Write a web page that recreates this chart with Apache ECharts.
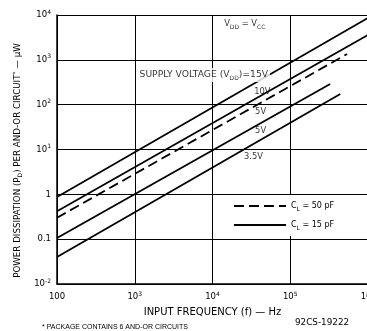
<!DOCTYPE html>
<html>
<head>
<meta charset="utf-8">
<script src="https://cdn.jsdelivr.net/npm/echarts@6/dist/echarts.min.js"></script>
<style>html,body{margin:0;padding:0;background:#fff}#c{width:367px;height:331px}</style>
</head>
<body>
<div id="c"></div>
<script>
// Tick labels (rich text superscripts)
const xTickLabels = ['100', '10{sup|3}', '10{sup|4}', '10{sup|5}', '10{sup|6}']; // 1e2..1e6
const yTickLabels = ['10{sup|-2}', '0.1', '1', '10{sup|1}', '10{sup|2}', '10{sup|3}', '10{sup|4}']; // 1e-2..1e4

// Series: [frequency Hz, power µW]
const v15_15pF = [[100, 0.87], [1000000, 8600]];
const v10_15pF = [[100, 0.42], [1000000, 3600]];
const v5_50pF  = [[100, 0.30], [540000, 1350]];
const v5_15pF  = [[100, 0.106], [326000, 289]];
const v35_15pF = [[100, 0.040], [440000, 173]];

// Annotations
const noteText = ['V{sub|DD} = V{sub|CC}', 'SUPPLY VOLTAGE (V{sub|DD})=15V', '10V', '5V', '5V', '3.5V'];
const notePos = [[13300, 6300], [55000, 459], [32400, 191], [33300, 68.6], [33300, 25.8], [24000, 6.8]];
const noteAlign = ['left', 'right', 'left', 'left', 'left', 'left'];

const legendNames = ['50pF', '15pF'];
const legendText = {'50pF': 'C{sub|L} = 50 pF', '15pF': 'C{sub|L} = 15 pF'};

const FONT = 'DejaVu Sans';
const richStyles = {
  sup: {fontSize: 6, verticalAlign: 'top', fontFamily: FONT, color: '#000'},
  sub: {fontSize: 6, verticalAlign: 'bottom', fontFamily: FONT, color: '#000'}
};

const chart = echarts.init(document.getElementById('c'));

function lineSeries(name, data, dashed) {
  return {
    type: 'line', name: name, data: data, symbol: 'none', showSymbol: false, silent: true,
    lineStyle: {color: '#000', width: 1.8, type: dashed ? [10, 5] : 'solid'},
    itemStyle: {color: '#000'}, z: 3
  };
}

const noteData = notePos.map((p, i) => ({
  value: p,
  label: {
    show: true, formatter: noteText[i],
    position: noteAlign[i] === 'left' ? 'right' : 'left', distance: 0,
    fontFamily: FONT, fontSize: (i === 1) ? 9.2 : 8.3, color: '#000', lineHeight: 12,
    backgroundColor: (i < 2) ? '#fff' : 'transparent', padding: [1, 2],
    rich: richStyles
  }
}));

chart.setOption({
  animation: false,
  backgroundColor: '#fff',
  grid: {left: 57, top: 15, right: -1, bottom: 47, containLabel: false, outerBoundsMode: 'none'},
  xAxis: {
    type: 'log', logBase: 10, min: 100, max: 1000000, splitNumber: 4,
    name: 'INPUT FREQUENCY (f) — Hz', nameLocation: 'middle', nameGap: 21,
    nameTextStyle: {fontFamily: FONT, fontSize: 10, color: '#000'},
    axisLine: {lineStyle: {color: '#000', width: 1.5}},
    axisTick: {show: false},
    minorTick: {show: false},
    splitLine: {show: true, lineStyle: {color: '#000', width: 1}},
    axisLabel: {
      fontFamily: FONT, fontSize: 8.5, color: '#000', margin: 7, lineHeight: 12,
      formatter: v => xTickLabels[Math.round(Math.log10(v)) - 2], rich: richStyles
    }
  },
  yAxis: {
    type: 'log', logBase: 10, min: 0.01, max: 10000, splitNumber: 6,
    name: 'POWER DISSIPATION (P{sub|D}) PER AND-OR CIRCUIT{sup|*} — μW',
    nameLocation: 'middle', nameGap: 33, nameRotate: 90,
    nameTextStyle: {fontFamily: FONT, fontSize: 8.7, color: '#000', lineHeight: 11, padding: [0, 22, 0, 0], rich: richStyles},
    axisLine: {lineStyle: {color: '#000', width: 1.5}},
    axisTick: {show: false},
    splitLine: {show: true, lineStyle: {color: '#000', width: 1}},
    axisLabel: {
      fontFamily: FONT, fontSize: 8.5, color: '#000', margin: 6, lineHeight: 12,
      formatter: v => yTickLabels[Math.round(Math.log10(v)) + 2], rich: richStyles
    }
  },
  legend: {
    data: legendNames, orient: 'vertical', left: 226, top: 195,
    padding: [5, 40, 5, 7], itemGap: 7, itemWidth: 52, itemHeight: 14,
    backgroundColor: '#fff', selectedMode: false,
    itemStyle: {opacity: 0},
    formatter: n => legendText[n],
    textStyle: {fontFamily: FONT, fontSize: 8, color: '#000', lineHeight: 12, rich: richStyles}
  },
  series: [
    lineSeries('15pF', v15_15pF, false),
    lineSeries('15pF', v10_15pF, false),
    lineSeries('50pF', v5_50pF, true),
    lineSeries('15pF', v5_15pF, false),
    lineSeries('15pF', v35_15pF, false),
    {type: 'scatter', name: 'notes', data: noteData, symbolSize: 0, silent: true, z: 5}
  ],
  graphic: [
    {type: 'text', left: 42, top: 324, style: {text: '* PACKAGE CONTAINS 6 AND-OR CIRCUITS', font: '7px "Liberation Sans"', fill: '#000'}},
    {type: 'text', left: 295, top: 318, style: {text: '92CS-19222', font: '8.8px "DejaVu Sans"', fill: '#000'}}
  ]
});
</script>
</body>
</html>
